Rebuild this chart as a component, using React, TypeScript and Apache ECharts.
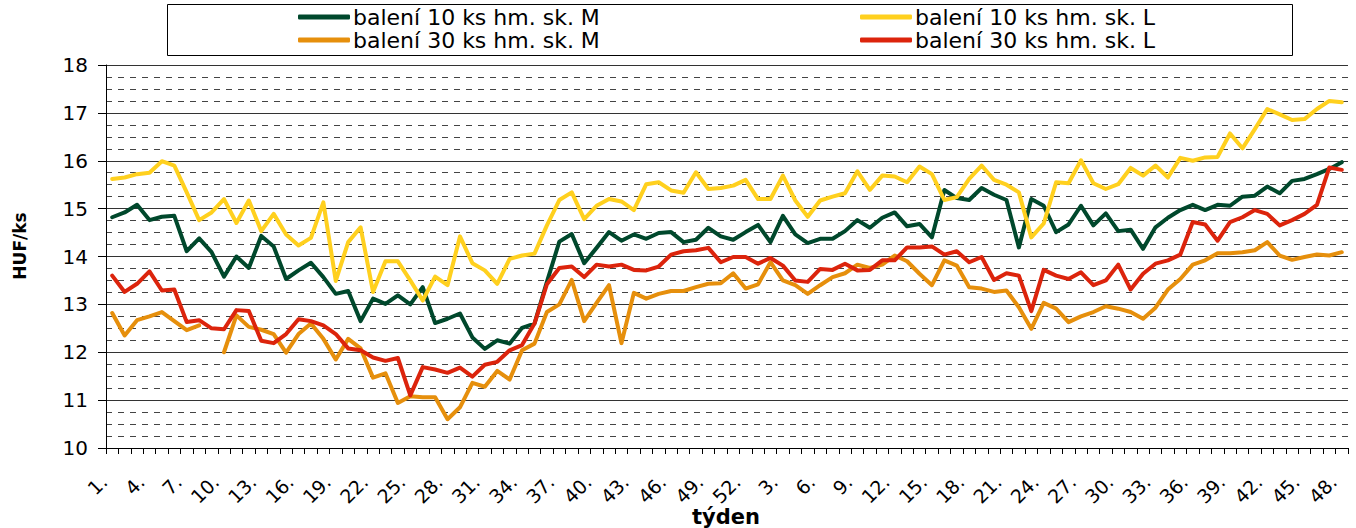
import React, { useEffect, useRef } from "react";
import * as echarts from "echarts";

const weeks: string[] = [
  "1.", "2.", "3.", "4.", "5.", "6.", "7.", "8.", "9.", "10.",
  "11.", "12.", "13.", "14.", "15.", "16.", "17.", "18.", "19.", "20.",
  "21.", "22.", "23.", "24.", "25.", "26.", "27.", "28.", "29.", "30.",
  "31.", "32.", "33.", "34.", "35.", "36.", "37.", "38.", "39.", "40.",
  "41.", "42.", "43.", "44.", "45.", "46.", "47.", "48.", "49.", "50.",
  "51.", "52.", "1.", "2.", "3.", "4.", "5.", "6.", "7.", "8.",
  "9.", "10.", "11.", "12.", "13.", "14.", "15.", "16.", "17.", "18.",
  "19.", "20.", "21.", "22.", "23.", "24.", "25.", "26.", "27.", "28.",
  "29.", "30.", "31.", "32.", "33.", "34.", "35.", "36.", "37.", "38.",
  "39.", "40.", "41.", "42.", "43.", "44.", "45.", "46.", "47.", "48.",
];

const seriesNames: string[] = [
  "balení 10 ks hm. sk. M",
  "balení 10 ks hm. sk. L",
  "balení 30 ks hm. sk. M",
  "balení 30 ks hm. sk. L",
];

const m10: (number | null)[] = [
  14.82, 14.92, 15.08, 14.76, 14.83, 14.85, 14.11, 14.38, 14.09, 13.58,
  14.0, 13.76, 14.43, 14.21, 13.53, 13.71, 13.87, 13.57, 13.22, 13.28,
  12.65, 13.12, 13.01, 13.19, 13.0, 13.36, 12.61, 12.7, 12.81, 12.31,
  12.07, 12.25, 12.18, 12.51, 12.6, 13.47, 14.31, 14.47, 13.86, 14.18,
  14.51, 14.33, 14.46, 14.37, 14.49, 14.51, 14.3, 14.35, 14.6, 14.42,
  14.35, 14.51, 14.66, 14.3, 14.85, 14.46, 14.28, 14.37, 14.37, 14.53,
  14.76, 14.6, 14.81, 14.92, 14.63, 14.68, 14.4, 15.39, 15.22, 15.18,
  15.43, 15.29, 15.18, 14.19, 15.2, 15.06, 14.51, 14.67, 15.06, 14.65,
  14.9, 14.53, 14.56, 14.16, 14.61, 14.81, 14.97, 15.08, 14.97, 15.08,
  15.06, 15.25, 15.27, 15.46, 15.32, 15.58, 15.62, 15.72, 15.83, 15.97,
];

const l10: (number | null)[] = [
  15.62, 15.65, 15.72, 15.75, 15.99, 15.9, 15.34, 14.76, 14.92, 15.2,
  14.7, 15.17, 14.53, 14.89, 14.46, 14.23, 14.39, 15.13, 13.49, 14.3,
  14.61, 13.26, 13.9, 13.9, 13.5, 13.08, 13.58, 13.4, 14.42, 13.86,
  13.71, 13.43, 13.95, 14.02, 14.06, 14.65, 15.18, 15.34, 14.78, 15.06,
  15.2, 15.15, 14.97, 15.51, 15.55, 15.38, 15.33, 15.76, 15.41, 15.43,
  15.48, 15.6, 15.2, 15.2, 15.69, 15.17, 14.83, 15.17, 15.25, 15.32,
  15.78, 15.39, 15.69, 15.67, 15.55, 15.88, 15.72, 15.18, 15.24, 15.62,
  15.9, 15.6, 15.5, 15.34, 14.4, 14.69, 15.55, 15.53, 16.01, 15.53,
  15.41, 15.51, 15.85, 15.69, 15.9, 15.65, 16.06, 16.0, 16.07, 16.08,
  16.57, 16.26, 16.66, 17.08, 16.97, 16.85, 16.87, 17.08, 17.25, 17.22,
];

const m30: (number | null)[] = [
  12.82, 12.35, 12.67, 12.75, 12.84, 12.65, 12.46, 12.56, null, 12.0,
  12.77, 12.53, 12.47, 12.38, 11.99, 12.38, 12.6, 12.28, 11.85, 12.28,
  12.08, 11.47, 11.56, 10.94, 11.08, 11.06, 11.06, 10.6, 10.85, 11.36,
  11.28, 11.61, 11.43, 12.04, 12.18, 12.84, 13.0, 13.51, 12.65, 13.03,
  13.4, 12.19, 13.24, 13.12, 13.22, 13.28, 13.28, 13.36, 13.43, 13.44,
  13.65, 13.33, 13.42, 13.88, 13.5, 13.4, 13.22, 13.4, 13.57, 13.65,
  13.83, 13.76, 13.83, 14.02, 13.9, 13.64, 13.4, 13.92, 13.81, 13.36,
  13.33, 13.26, 13.29, 12.94, 12.49, 13.03, 12.91, 12.63, 12.75, 12.84,
  12.96, 12.91, 12.84, 12.7, 12.93, 13.31, 13.53, 13.83, 13.92, 14.07,
  14.07, 14.09, 14.13, 14.3, 14.02, 13.93, 13.99, 14.04, 14.02, 14.09,
];

const l30: (number | null)[] = [
  13.6, 13.26, 13.43, 13.69, 13.29, 13.31, 12.63, 12.67, 12.5, 12.48,
  12.88, 12.86, 12.24, 12.19, 12.38, 12.69, 12.65, 12.56, 12.38, 12.08,
  12.04, 11.89, 11.82, 11.88, 11.1, 11.69, 11.64, 11.57, 11.68, 11.49,
  11.74, 11.8, 12.04, 12.15, 12.6, 13.42, 13.76, 13.79, 13.57, 13.83,
  13.79, 13.83, 13.72, 13.71, 13.79, 14.04, 14.11, 14.13, 14.18, 13.88,
  13.99, 13.99, 13.85, 13.97, 13.81, 13.5, 13.47, 13.74, 13.72, 13.85,
  13.71, 13.72, 13.92, 13.92, 14.19, 14.19, 14.21, 14.04, 14.11, 13.88,
  13.99, 13.51, 13.65, 13.6, 12.86, 13.72, 13.6, 13.53, 13.67, 13.4,
  13.5, 13.83, 13.31, 13.64, 13.85, 13.92, 14.04, 14.72, 14.67, 14.33,
  14.72, 14.82, 14.97, 14.89, 14.65, 14.76, 14.89, 15.08, 15.86, 15.81,
];

const colors: string[] = ["#00482C", "#FFD01E", "#E68F0C", "#DC240C"];

const FONT = "DejaVu Sans";

export default function App() {
  const ref = useRef<HTMLDivElement>(null);

  useEffect(() => {
    if (!ref.current) return;
    const chart = echarts.init(ref.current, undefined, { renderer: "svg" });
    const values = [m10, l10, m30, l30];

    const legendPos = [
      { left: 298, top: 6 },
      { left: 860, top: 6 },
      { left: 298, top: 29 },
      { left: 860, top: 29 },
    ];

    const option: any = {
      animation: false,
      backgroundColor: "#ffffff",
      grid: { left: 106, right: 8, top: 65, bottom: 80, containLabel: false },
      legend: seriesNames.map((n, i) => ({
        data: [n],
        left: legendPos[i].left,
        top: legendPos[i].top,
        padding: 0,
        itemGap: 0,
        itemWidth: 52,
        itemHeight: 5,
        icon: "roundRect",
        selectedMode: false,
        textStyle: { fontSize: 22, fontFamily: FONT, color: "#000", padding: [0, 0, 0, -2] },
      })),
      xAxis: {
        type: "category",
        data: weeks,
        boundaryGap: true,
        axisLine: { show: true, lineStyle: { color: "#000", width: 1 } },
        axisTick: { show: true, interval: 0, length: 6, lineStyle: { color: "#000" } },
        axisLabel: {
          interval: 2,
          rotate: 45,
          fontSize: 19,
          fontFamily: FONT,
          color: "#000",
          margin: 22,
          padding: [0, 12, 0, 0],
        },
        splitLine: { show: false },
      },
      yAxis: {
        type: "value",
        min: 10,
        max: 18,
        interval: 1,
        axisLine: { show: true, lineStyle: { color: "#000", width: 1 } },
        axisTick: { show: true, length: 8, lineStyle: { color: "#000" } },
        axisLabel: { fontSize: 20, fontFamily: FONT, color: "#000", margin: 18 },
        splitLine: { show: true, lineStyle: { color: "#333", width: 1 } },
        minorTick: { show: false, splitNumber: 4 },
        minorSplitLine: { show: true, lineStyle: { color: "#444", width: 1, type: [6, 6] } },
      },
      series: seriesNames.map((n, i) => ({
        name: n,
        type: "line",
        data: values[i],
        symbol: "none",
        showSymbol: false,
        connectNulls: false,
        smooth: false,
        color: colors[i],
        lineStyle: { color: colors[i], width: 4, join: "round", cap: "round" },
        itemStyle: { color: colors[i] },
        z: 3 + i,
      })),
      graphic: [
        {
          type: "rect",
          shape: { x: 167.5, y: 4.5, width: 1125, height: 51 },
          style: { fill: "transparent", stroke: "#000", lineWidth: 1 },
          z: 1,
        },
        {
          type: "text",
          x: 20,
          y: 246,
          rotation: Math.PI / 2,
          style: {
            text: "HUF/ks",
            fontSize: 17,
            fontWeight: "bold",
            fontFamily: FONT,
            fill: "#000",
            align: "center",
            verticalAlign: "middle",
          },
        },
        {
          type: "text",
          x: 726,
          y: 517,
          style: {
            text: "týden",
            fontSize: 21,
            fontWeight: "bold",
            fontFamily: FONT,
            fill: "#000",
            align: "center",
            verticalAlign: "middle",
          },
        },
      ],
    };

    chart.setOption(option);
    return () => {
      chart.dispose();
    };
  }, []);

  return (
    <div
      ref={ref}
      style={{ position: "fixed", left: 0, top: 0, width: "1356px", height: "528px" }}
    />
  );
}
